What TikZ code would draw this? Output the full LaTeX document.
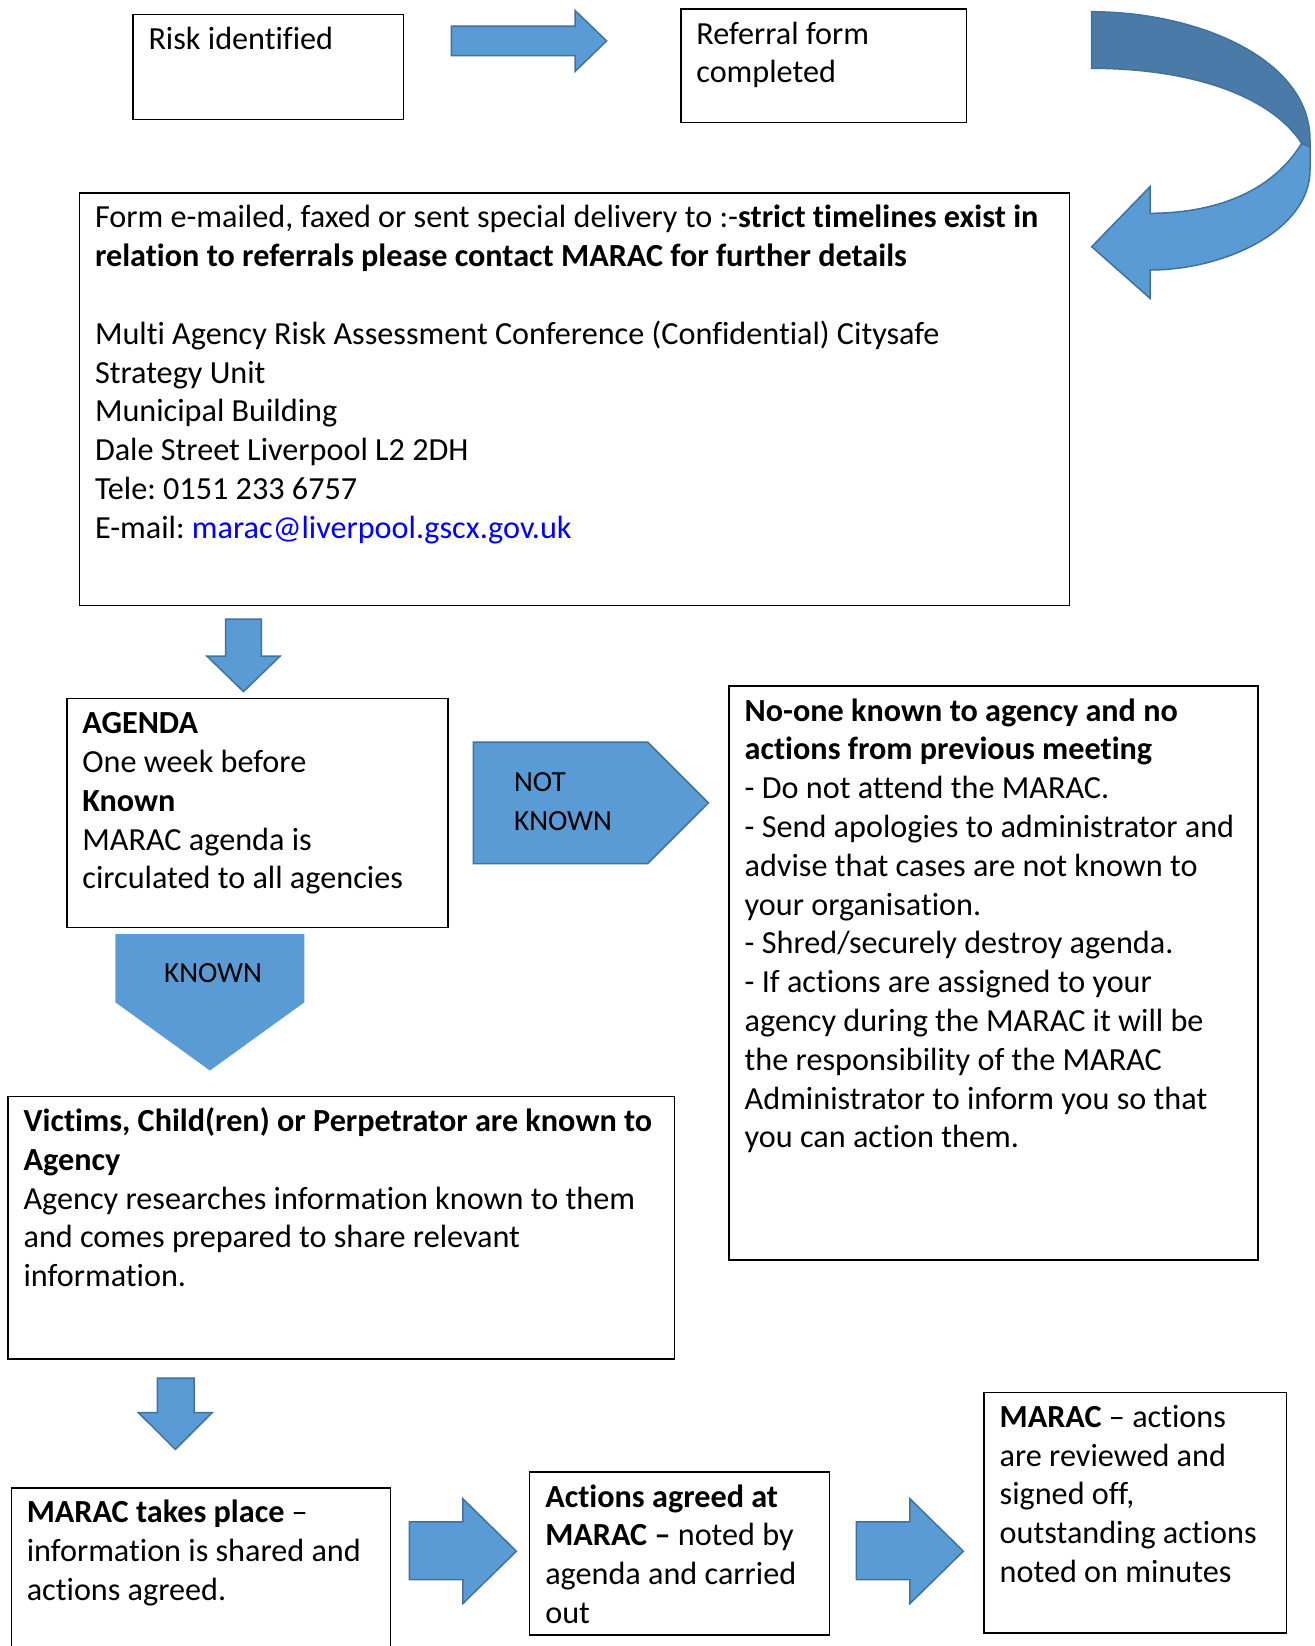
\documentclass[tikz,border=0pt]{standalone}
\usepackage{fontspec}
\setmainfont{Carlito}[Ligatures=CommonOff]
\frenchspacing

\definecolor{arrowblue}{HTML}{5B9BD5}
\definecolor{arrowedge}{HTML}{41719C}
\definecolor{arrowdark}{HTML}{4A7BA8}

\newcommand\boxfont{\fontsize{16.1pt}{19.4pt}\selectfont}
\newcommand\tagfont{\fontsize{14.6pt}{19.4pt}\selectfont}

\begin{document}
\begin{tikzpicture}[
  x=0.5pt, y=-0.5pt,
  panel/.style={draw,line width=.7pt,anchor=north west,align=flush left,inner xsep=7.8pt,inner ysep=3.9pt,text height=13.6pt,font=\boxfont},
  blockarrow/.style={fill=arrowblue,draw=arrowedge,line width=.75pt},
  tag/.style={font=\tagfont,align=left,inner sep=0pt}
]
  \clip (0,0) rectangle (1314,1646);

  % top row
  \node[panel,text width=119.8pt,text depth=31.1pt] (risk) at (132.2,13.6) {Risk identified};
  \node[panel,text width=127.1pt,text depth=35.3pt] (referral) at (680.1,8.4) {Referral form\\completed};
  \draw[blockarrow] (451.3,26.2) -- (575.1,26.2) -- (575.1,10.5) -- (606.6,40.9) -- (575.1,71.4) -- (575.1,55.6) -- (451.3,55.6) -- cycle;

  % curved arrow back to the left
  \draw[blockarrow] (1301.7,143.3) -- (1310,146.7) -- (1310,170) .. controls (1310,230) and (1225,270) .. (1150,270)
    -- (1150,298.3) -- (1091.7,246.7) -- (1150,186.7) -- (1150,213.3) .. controls (1210,213.3) and (1270,195) .. (1301.7,143.3) -- cycle;
  \draw[blockarrow,fill=arrowdark] (1091.7,11.7) .. controls (1200,12) and (1310,60) .. (1310,140) -- (1310,146.7) -- (1301.7,143.3)
    .. controls (1270,95) and (1190,68.3) .. (1091.7,68.3) -- cycle;

  \node[panel,text width=479.3pt,text depth=184.8pt] (form) at (78.7,192.1) {Form e-mailed, faxed or sent special delivery to :-\textbf{strict timelines exist in}\\
    \textbf{relation to referrals please contact MARAC for further details}\\[19.4pt]
    Multi Agency Risk Assessment Conference (Confidential) Citysafe\\
    Strategy Unit\\
    Municipal Building\\
    Dale Street Liverpool L2 2DH\\
    Tele: 0151 233 6757\\
    E-mail: \textcolor{blue}{marac@liverpool.gscx.gov.uk}};

  \draw[blockarrow] (225.6,619.2) -- (261.3,619.2) -- (261.3,656) -- (280.2,656) -- (243.5,691.6) -- (206.8,656) -- (225.6,656) -- cycle;

  % agenda and the two outcomes
  \node[panel,text width=174.9pt,text depth=93pt] (agenda) at (66.1,697.9) {\textbf{AGENDA}\\One week before\\\textbf{Known}\\MARAC agenda is\\circulated to all agencies};

  \draw[blockarrow] (473.3,742) -- (647.5,742) -- (708.4,802.9) -- (647.5,863.7) -- (473.3,863.7) -- cycle;
  \node[tag] (notknown) at (563,802) {NOT\\KNOWN};

  \node[panel,text width=248.9pt,text depth=265.6pt] (noone) at (728.4,685.3) {\textbf{No-one known to agency and no}\\
    \textbf{actions from previous meeting}\\
    - Do not attend the MARAC.\\
    - Send apologies to administrator and\\
    advise that cases are not known to\\
    your organisation.\\
    - Shred/securely destroy agenda.\\
    - If actions are assigned to your\\
    agency during the MARAC it will be\\
    the responsibility of the MARAC\\
    Administrator to inform you so that\\
    you can action them.};

  \fill[arrowblue] (115.4,934) -- (304.4,934) -- (304.4,1002.3) -- (209.9,1070.5) -- (115.4,1002.3) -- cycle;
  \node[tag] (known) at (213,973) {KNOWN};

  \node[panel,text width=317.7pt,text depth=109.8pt] (victims) at (7.3,1095.7) {\textbf{Victims, Child(ren) or Perpetrator are known to}\\
    \textbf{Agency}\\
    Agency researches information known to them\\
    and comes prepared to share relevant\\
    information.};

  \draw[blockarrow] (157.4,1378) -- (194.2,1378) -- (194.2,1412.7) -- (212,1412.7) -- (175.3,1449.4) -- (138.5,1412.7) -- (157.4,1412.7) -- cycle;

  % bottom row
  \node[panel,text width=173.9pt,text depth=85.1pt] (meeting) at (10.5,1487.1) {\textbf{MARAC takes place} --\\information is shared and\\actions agreed.};
  \draw[blockarrow] (409.3,1521.8) -- (462.8,1521.8) -- (462.8,1498.7) -- (516.4,1551.2) -- (462.8,1603.6) -- (462.8,1579.5) -- (409.3,1579.5) -- cycle;
  \node[panel,text width=134.4pt,text depth=60pt] (actions) at (529,1471.4) {\textbf{Actions agreed at}\\\textbf{MARAC --} noted by\\agenda and carried\\out};
  \draw[blockarrow] (856.4,1521.8) -- (909.9,1521.8) -- (909.9,1498.7) -- (963.4,1551.2) -- (909.9,1603.6) -- (909.9,1579.5) -- (856.4,1579.5) -- cycle;
  \node[panel,text width=135.5pt,text depth=98.9pt] (review) at (983.4,1391.6) {\textbf{MARAC} -- actions\\are reviewed and\\signed off,\\outstanding actions\\noted on minutes};
\end{tikzpicture}
\end{document}
